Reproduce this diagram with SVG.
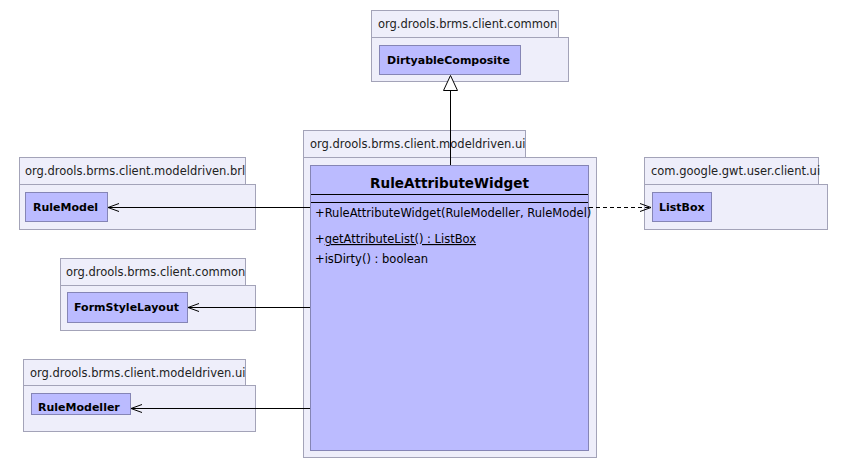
<svg xmlns="http://www.w3.org/2000/svg" width="846" height="469" viewBox="0 0 846 469">
<style>
.pkg{fill:#eeeefa;stroke:#a3a3b8;stroke-width:1}
.cls{fill:#bbbbff;stroke:#8585b5;stroke-width:1}
.pt{font-family:"DejaVu Sans",sans-serif;font-size:11.5px;fill:#222}
.cn{font-family:"DejaVu Sans",sans-serif;font-size:11px;font-weight:bold;fill:#000}
.big{font-family:"DejaVu Sans",sans-serif;font-size:13.6px;font-weight:bold;fill:#000}
.m{font-family:"DejaVu Sans",sans-serif;font-size:11.5px;fill:#000}
.ln{stroke:#000;stroke-width:1;fill:none}
</style>
<rect width="846" height="469" fill="#fff"/>
<g id="pkg-common-top">
<rect class="pkg" x="371.5" y="10.5" width="187" height="27"/>
<rect class="pkg" x="371.5" y="37.5" width="197" height="44"/>
<text class="pt" x="378" y="28">org.drools.brms.client.common</text>
</g>
<g id="DirtyableComposite">
<rect class="cls" x="379.5" y="45.5" width="141" height="29"/>
<text class="cn" x="387" y="64">DirtyableComposite</text>
</g>
<g id="pkg-ui-main">
<rect class="pkg" x="303.5" y="130.5" width="222" height="27"/>
<rect class="pkg" x="303.5" y="157.5" width="293" height="300"/>
<text class="pt" x="310" y="148">org.drools.brms.client.modeldriven.ui</text>
</g>
<g id="RuleAttributeWidget">
<rect class="cls" x="310.5" y="165.5" width="278" height="285"/>
<text class="big" x="449.5" y="188" text-anchor="middle">RuleAttributeWidget</text>
<line class="ln" x1="311" y1="194.5" x2="588" y2="194.5"/>
<line class="ln" x1="311" y1="202.5" x2="588" y2="202.5"/>
<text class="m" x="315" y="217">+RuleAttributeWidget(RuleModeller, RuleModel)</text>
<text class="m" x="315" y="243">+<tspan text-decoration="underline">getAttributeList() : ListBox</tspan></text>
<text class="m" x="315" y="263">+isDirty() : boolean</text>
</g>
<g id="pkg-brl">
<rect class="pkg" x="19.5" y="157.5" width="226" height="27"/>
<rect class="pkg" x="19.5" y="184.5" width="236" height="45"/>
<text class="pt" x="25" y="175">org.drools.brms.client.modeldriven.brl</text>
</g>
<g id="RuleModel">
<rect class="cls" x="25.5" y="192.5" width="82" height="29"/>
<text class="cn" x="33" y="211">RuleModel</text>
</g>
<g id="pkg-common-left">
<rect class="pkg" x="60.5" y="258.5" width="185" height="27"/>
<rect class="pkg" x="60.5" y="285.5" width="195" height="45"/>
<text class="pt" x="66" y="276">org.drools.brms.client.common</text>
</g>
<g id="FormStyleLayout">
<rect class="cls" x="67.5" y="292.5" width="120" height="30"/>
<text class="cn" x="74" y="311">FormStyleLayout</text>
</g>
<g id="pkg-ui-left">
<rect class="pkg" x="23.5" y="359.5" width="222" height="26"/>
<rect class="pkg" x="23.5" y="385.5" width="232" height="46"/>
<text class="pt" x="30" y="377">org.drools.brms.client.modeldriven.ui</text>
</g>
<g id="RuleModeller">
<rect class="cls" x="31.5" y="393.5" width="99" height="21"/>
<text class="cn" x="38" y="411">RuleModeller</text>
</g>
<g id="pkg-gwt">
<rect class="pkg" x="644.5" y="157.5" width="174" height="27"/>
<rect class="pkg" x="644.5" y="184.5" width="183" height="45"/>
<text class="pt" x="651" y="175">com.google.gwt.user.client.ui</text>
</g>
<g id="ListBox">
<rect class="cls" x="652.5" y="192.5" width="59" height="29"/>
<text class="cn" x="659" y="211">ListBox</text>
</g>
<g id="connectors">
<line class="ln" x1="450.5" y1="90" x2="450.5" y2="165"/>
<polygon points="450.5,75.5 443.5,90.5 457.5,90.5" fill="#fff" stroke="#000"/>
<line class="ln" x1="310" y1="207.5" x2="108" y2="207.5"/>
<polyline class="ln" points="119,203.5 108,207.5 119,211.5"/>
<line class="ln" x1="310" y1="307.5" x2="188" y2="307.5"/>
<polyline class="ln" points="199,303.5 188,307.5 199,311.5"/>
<line class="ln" x1="310" y1="408.5" x2="131" y2="408.5"/>
<polyline class="ln" points="142,404.5 131,408.5 142,412.5"/>
<line class="ln" x1="589" y1="207.5" x2="651" y2="207.5" stroke-dasharray="4,3"/>
<polyline class="ln" points="640,203.5 651,207.5 640,211.5"/>
</g>
</svg>
